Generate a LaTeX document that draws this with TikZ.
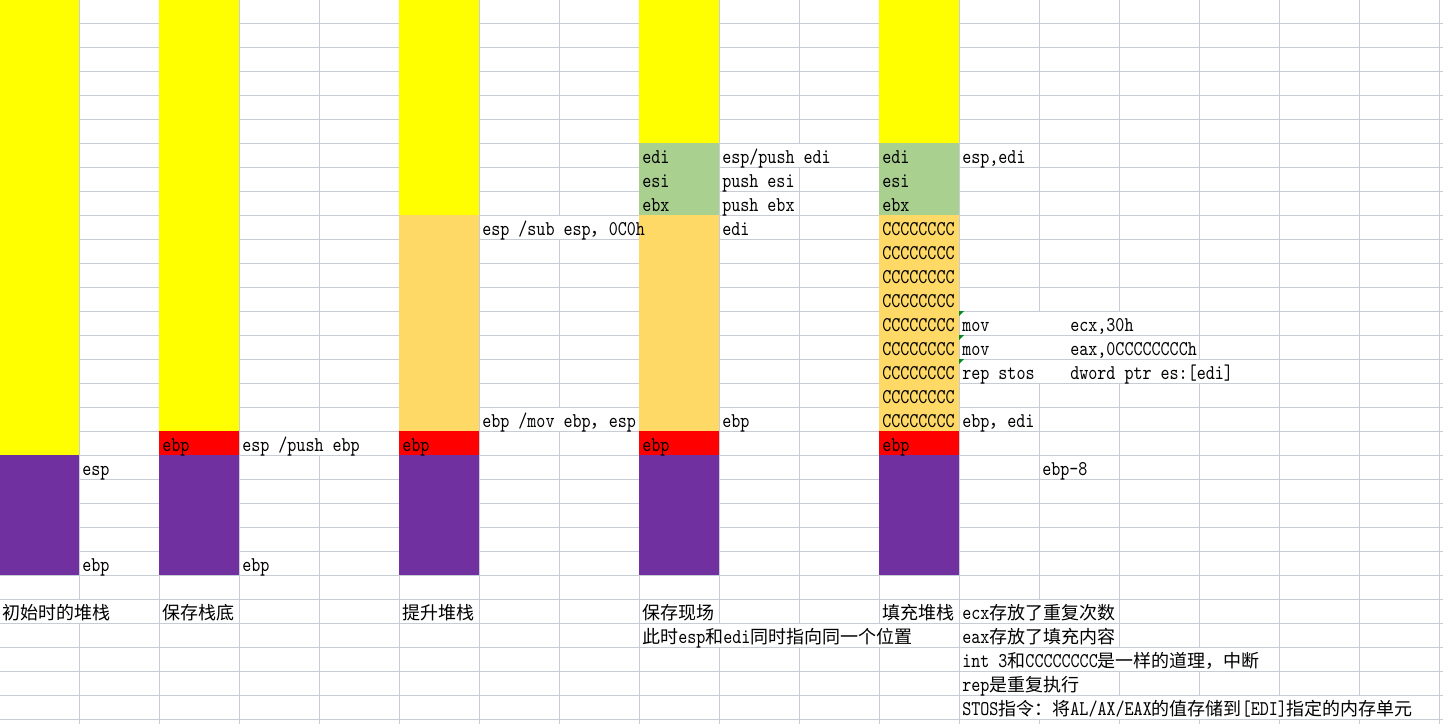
\documentclass[tikz,border=0pt]{standalone}
\usepackage{fontspec}
\setmainfont[FakeStretch=0.82]{lmmono10-regular.otf}
\newfontfamily\zhfont[Scale=0.857]{Noto Sans CJK SC}
\newcommand{\zh}[1]{{\zhfont #1}}

\definecolor{gridgray}{RGB}{200,204,212}
\definecolor{stackyellow}{RGB}{255,255,0}
\definecolor{stackpurple}{RGB}{112,48,160}
\definecolor{stackred}{RGB}{255,0,0}
\definecolor{stackorange}{RGB}{255,217,102}
\definecolor{stackgreen}{RGB}{169,208,142}
\definecolor{markgreen}{RGB}{0,140,40}

% column, first row, last row, colour (sheet pixels)
\newcommand{\stackblock}[4]{\fill[#4] ({80*#1-1},{24*#2-1}) rectangle ({80*#1+79},{24*#3+23});}

\begin{document}
\begin{tikzpicture}[x=0.75pt, y=-0.75pt,
  gridline/.style={draw=gridgray, line width=0.75pt},
  txt/.style={anchor=base west, inner sep=0pt, font=\fontsize{15.75}{18}\selectfont}]
  \clip (0,0) rectangle (1443,724);
  \fill[white] (0,0) rectangle (1443,724);

  % sheet grid
  \foreach \k in {1,...,18}
    \draw[gridline] ({80*\k-0.5},0) -- ({80*\k-0.5},724);
  \foreach \r in {1,...,30}
    \draw[gridline] (0,{24*\r-0.5}) -- (1443,{24*\r-0.5});
  % text running over the cell borders
  \foreach \k/\r in {10/6, 7/9, 7/17, 4/18, 13/13, 14/13, 13/14, 14/14,
      13/15, 14/15, 15/15, 1/25, 13/25, 9/26, 10/26, 11/26, 13/26,
      13/27, 14/27, 15/27, 13/28, 13/29, 14/29, 15/29, 16/29, 17/29}
    \fill[white] ({80*\k-1},{24*\r}) rectangle ({80*\k},{24*\r+23});

  % stacks
  \stackblock{0}{0}{18}{stackyellow}
  \stackblock{0}{19}{23}{stackpurple}

  \stackblock{2}{0}{17}{stackyellow}
  \stackblock{2}{18}{18}{stackred}
  \stackblock{2}{19}{23}{stackpurple}

  \stackblock{5}{0}{8}{stackyellow}
  \stackblock{5}{9}{17}{stackorange}
  \stackblock{5}{18}{18}{stackred}
  \stackblock{5}{19}{23}{stackpurple}

  \stackblock{8}{0}{5}{stackyellow}
  \stackblock{8}{6}{8}{stackgreen}
  \stackblock{8}{9}{17}{stackorange}
  \stackblock{8}{18}{18}{stackred}
  \stackblock{8}{19}{23}{stackpurple}

  \stackblock{11}{0}{5}{stackyellow}
  \stackblock{11}{6}{8}{stackgreen}
  \stackblock{11}{9}{17}{stackorange}
  \stackblock{11}{18}{18}{stackred}
  \stackblock{11}{19}{23}{stackpurple}

  \foreach \r in {13,14,15}
    \fill[markgreen] (959,{24*\r-1}) -- ++(5,0) -- ++(-5,5) -- cycle;

  % initial stack
  \node[txt] (esp0) at (82,475) {esp};
  \node[txt] (ebp0) at (82,571) {ebp};
  \node[txt] (cap0) at (2,619) {\zh{初始时的堆栈}};

  % push ebp
  \node[txt] (old1) at (162,451) {ebp};
  \node[txt] (esp1) at (242,451) {esp /push ebp};
  \node[txt] (ebp1) at (242,571) {ebp};
  \node[txt] (cap1) at (162,619) {\zh{保存栈底}};

  % sub esp
  \node[txt] (old2) at (402,451) {ebp};
  \node[txt] (esp2) at (482,235) {esp /sub esp\zh{，}0C0h};
  \node[txt] (ebp2) at (482,427) {ebp /mov ebp\zh{，}esp};
  \node[txt] (cap2) at (402,619) {\zh{提升堆栈}};

  % push edi/esi/ebx
  \node[txt] (edi3) at (642,163) {edi};
  \node[txt] (esi3) at (642,187) {esi};
  \node[txt] (ebx3) at (642,211) {ebx};
  \node[txt] (old3) at (642,451) {ebp};
  \node[txt] (esp3) at (722,163) {esp/push edi};
  \node[txt] (psi3) at (722,187) {push esi};
  \node[txt] (pbx3) at (722,211) {push ebx};
  \node[txt] (top3) at (722,235) {edi};
  \node[txt] (ebp3) at (722,427) {ebp};
  \node[txt] (cap3) at (642,619) {\zh{保存现场}};
  \node[txt] (note3) at (642,643) {\zh{此时}esp\zh{和}edi\zh{同时指向同一个位置}};

  % rep stos
  \node[txt] (edi4) at (882,163) {edi};
  \node[txt] (esi4) at (882,187) {esi};
  \node[txt] (ebx4) at (882,211) {ebx};
  \foreach \r in {9,...,17}
    \node[txt] (fill\r) at (882,{24*\r+19}) {CCCCCCCC};
  \node[txt] (old4) at (882,451) {ebp};
  \node[txt] (esp4) at (962,163) {esp,edi};
  \node[txt] (mov1) at (962,331) {mov};
  \node[txt] (arg1) at (1070,331) {ecx,30h};
  \node[txt] (mov2) at (962,355) {mov};
  \node[txt] (arg2) at (1070,355) {eax,0CCCCCCCCh};
  \node[txt] (rep4) at (962,379) {rep stos};
  \node[txt] (arg3) at (1070,379) {dword ptr es:[edi]};
  \node[txt] (ebp4) at (962,427) {ebp\zh{，}edi};
  \node[txt] (off4) at (1042,475) {ebp-8};
  \node[txt] (cap4) at (882,619) {\zh{填充堆栈}};
  \node[txt] (note4a) at (962,619) {ecx\zh{存放了重复次数}};
  \node[txt] (note4b) at (962,643) {eax\zh{存放了填充内容}};
  \node[txt] (note4c) at (962,667) {int 3\zh{和}CCCCCCCC\zh{是一样的道理，中断}};
  \node[txt] (note4d) at (962,691) {rep\zh{是重复执行}};
  \node[txt] (note4e) at (962,715) {STOS\zh{指令：将}AL/AX/EAX\zh{的值存储到}[EDI]\zh{指定的内存单元}};
\end{tikzpicture}
\end{document}
